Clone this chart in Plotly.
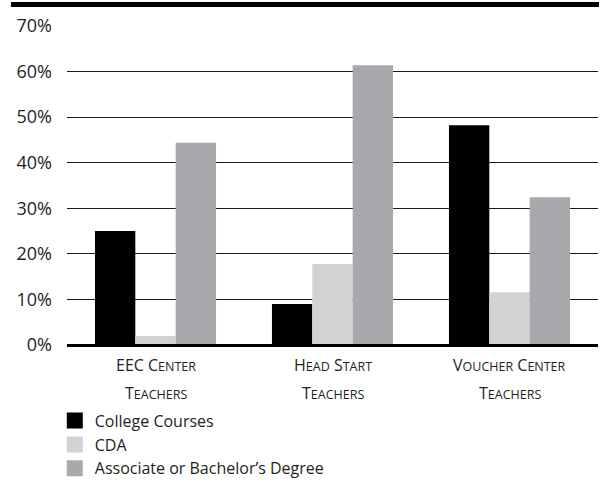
import plotly.graph_objects as go

categories = ["EEC Center Teachers", "Head Start Teachers", "Voucher Center Teachers"]
category_lines = [["EEC Center", "Teachers"], ["Head Start", "Teachers"], ["Voucher Center", "Teachers"]]
series_names = ["College Courses", "CDA", "Associate or Bachelor\u2019s Degree"]
college_courses = [25.0, 9.0, 48.2]
cda = [2.0, 17.8, 11.6]
degree = [44.4, 61.4, 32.4]
tick_values = [0, 10, 20, 30, 40, 50, 60, 70]
tick_labels = ["0%", "10%", "20%", "30%", "40%", "50%", "60%", "70%"]

colors = ["#000000", "#d1d2d4", "#a7a9ac"]
FONT = "Open Sans"
TEXT = "#231f20"

series = [college_courses, cda, degree]

fig = go.Figure()
for name, vals, col in zip(series_names, series, colors):
    fig.add_trace(go.Bar(x=categories, y=vals, name=name, marker=dict(color=col, line=dict(width=0)),
                         showlegend=False))
for name, col in zip(series_names, colors):
    fig.add_trace(go.Scatter(x=[None], y=[None], mode="markers", name=name,
                             marker=dict(symbol="square", size=16, color=col)))


def small_caps(s, small=12.5):
    out = []
    for word in s.split(" "):
        if word.isupper():
            out.append(word)
        else:
            out.append(word[0] + f"<span style='font-size:{small}px'>{word[1:].upper()}</span>")
    return " ".join(out)


annotations = []
for cat, lines in zip(categories, category_lines):
    for i, line in enumerate(lines):
        annotations.append(dict(x=cat, xref="x", y=-0.063 - i * 0.088, yref="paper",
                                text=small_caps(line), showarrow=False, yanchor="middle",
                                xanchor="center", font=dict(family=FONT, size=16, color=TEXT)))

fig.update_layout(
    width=604, height=494,
    margin=dict(l=67, r=6, t=26, b=149),
    paper_bgcolor="white", plot_bgcolor="white",
    barmode="group", bargap=0.316, bargroupgap=0,
    font=dict(family=FONT, color=TEXT),
    xaxis=dict(range=[-0.5, 2.5], showticklabels=False, showgrid=False, zeroline=False,
               showline=False, ticks=""),
    yaxis=dict(range=[0, 70], tickvals=tick_values, ticktext=tick_labels,
               tickfont=dict(family=FONT, size=18, color=TEXT),
               showgrid=True, gridcolor="#1a1a1a", gridwidth=1,
               zeroline=True, zerolinecolor="#000000", zerolinewidth=3,
               zerolinelayer="above traces",
               showline=False, ticks="", ticklabelstandoff=14),
    legend=dict(x=-0.023, y=-0.184, xanchor="left", yanchor="top", orientation="v",
                bgcolor="rgba(0,0,0,0)", borderwidth=0,
                font=dict(family=FONT, size=16, color=TEXT), traceorder="normal",
                itemclick=False),
    annotations=annotations,
    shapes=[dict(type="rect", xref="paper", yref="paper", x0=-0.1055, x1=1.0019,
                 y0=1.0596, y1=1.0752, fillcolor="#000000", line=dict(width=0))],
)

fig.write_html("out.html")
